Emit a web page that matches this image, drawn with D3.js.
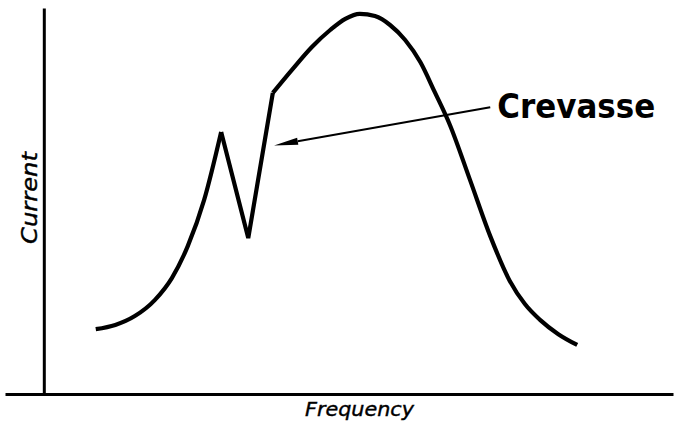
<!DOCTYPE html>
<html>
<head>
<meta charset="utf-8">
<script src="https://cdn.jsdelivr.net/npm/d3@7"></script>
<style>
  html, body { margin: 0; padding: 0; background: #fff; }
  svg { display: block; }
</style>
</head>
<body>
<svg id="chart" width="674" height="424"></svg>
<script>
// Resonance response: current versus frequency, with the crevasse on the rising flank.
// Rising flank up to the first (sharp) peak
const risingFreq    = [8.4, 11.5, 14.6, 17.8, 20.5, 23.0, 25.6, 28.3];
const risingCurrent = [16.8, 17.9, 20.2, 24.4, 30.1, 38.3, 50.3, 67.9];

// Crevasse: sharp drop and recovery
const crevasseFreq    = [28.3, 32.6, 36.5];
const crevasseCurrent = [67.9, 40.4, 78.0];

// Main hump and falling flank
const mainFreq    = [36.5, 39.5, 42.7, 45.6, 48.0, 50.3, 52.7, 55.1, 57.5, 59.9, 62.2, 64.6, 67.8, 71.0, 74.1, 76.5, 78.9, 81.8, 84.8];
const mainCurrent = [78.0, 83.9, 89.9, 94.3, 97.2, 98.5, 97.9, 95.6, 91.7, 86.0, 78.2, 69.7, 55.4, 40.9, 29.3, 23.3, 19.2, 15.5, 12.7];

// Annotation: label and pointer into the crevasse
const labelText   = "Crevasse";
const arrowTail   = [71.0, 74.3];
const arrowTip    = [36.7, 64.4];
const labelAnchor = [72.1, 71.4];

const svg = d3.select("#chart");

const x = d3.scaleLinear().domain([-6, 100]).range([5, 673]);
const y = d3.scaleLinear().domain([0, 100]).range([394, 8]);

// Axes: plain heavy lines, no ticks
const axisG = svg.append("g");
axisG.append("g")
  .attr("transform", `translate(0,${y(0)})`)
  .call(d3.axisBottom(x).ticks(0).tickSizeOuter(0))
  .call(g => g.select(".domain").attr("stroke", "#000").attr("stroke-width", 3));
axisG.append("g")
  .attr("transform", `translate(${x(0) + 1},0)`)
  .call(d3.axisLeft(y).ticks(0).tickSizeOuter(0))
  .call(g => g.select(".domain").attr("stroke", "#000").attr("stroke-width", 3));

const zip = (xs, ys) => xs.map((v, i) => [v, ys[i]]);

const smooth = d3.line().x(d => x(d[0])).y(d => y(d[1])).curve(d3.curveMonotoneX);
const straight = d3.line().x(d => x(d[0])).y(d => y(d[1]));

const curveStyle = sel => sel
  .attr("fill", "none")
  .attr("stroke", "#000")
  .attr("stroke-width", 4.2)
  .attr("stroke-linejoin", "miter")
  .attr("stroke-linecap", "butt");

svg.append("path").attr("d", smooth(zip(risingFreq, risingCurrent))).call(curveStyle);
svg.append("path").attr("d", straight(zip(crevasseFreq, crevasseCurrent))).call(curveStyle);
svg.append("path").attr("d", smooth(zip(mainFreq, mainCurrent))).call(curveStyle);

// Pointer arrow
const tx = x(arrowTail[0]), ty = y(arrowTail[1]);
const hx = x(arrowTip[0]),  hy = y(arrowTip[1]);
const ang = Math.atan2(ty - hy, tx - hx);
const headLen = 24, headHalf = 3.5;
const bx = hx + headLen * Math.cos(ang), by = hy + headLen * Math.sin(ang);
svg.append("line")
  .attr("x1", tx).attr("y1", ty).attr("x2", bx).attr("y2", by)
  .attr("stroke", "#000").attr("stroke-width", 2);
svg.append("path")
  .attr("d", d3.line()([
    [hx, hy],
    [bx - headHalf * Math.sin(ang), by + headHalf * Math.cos(ang)],
    [bx + headHalf * Math.sin(ang), by - headHalf * Math.cos(ang)]
  ]) + "Z")
  .attr("fill", "#000");

// Label
svg.append("text")
  .attr("x", x(labelAnchor[0])).attr("y", y(labelAnchor[1]))
  .attr("font-family", "DejaVu Sans, sans-serif")
  .attr("font-weight", "bold")
  .attr("font-size", 33)
  .attr("textLength", 158)
  .attr("lengthAdjust", "spacingAndGlyphs")
  .attr("fill", "#000")
  .text(labelText);

// Axis titles
svg.append("text")
  .attr("x", 305).attr("y", 416)
  .attr("font-family", "DejaVu Sans, sans-serif")
  .attr("font-style", "italic")
  .attr("font-size", 19)
  .attr("stroke", "#000")
  .attr("stroke-width", 0.4)
  .attr("textLength", 109)
  .attr("lengthAdjust", "spacingAndGlyphs")
  .attr("fill", "#000")
  .text("Frequency");

svg.append("text")
  .attr("transform", "translate(37,198) rotate(-90)")
  .attr("text-anchor", "middle")
  .attr("font-family", "DejaVu Sans, sans-serif")
  .attr("font-style", "italic")
  .attr("font-size", 21)
  .attr("stroke", "#000")
  .attr("stroke-width", 0.4)
  .attr("textLength", 92)
  .attr("lengthAdjust", "spacingAndGlyphs")
  .attr("fill", "#000")
  .text("Current");
</script>
</body>
</html>
